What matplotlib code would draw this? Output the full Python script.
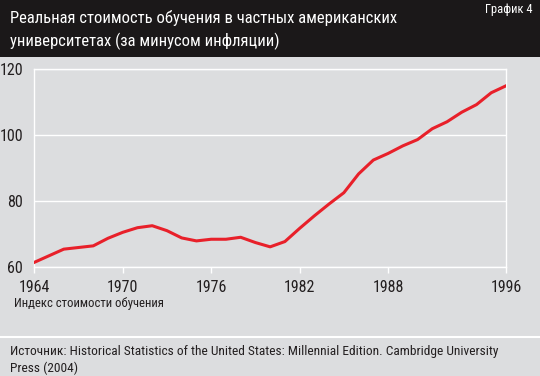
import matplotlib
matplotlib.use("Agg")
import matplotlib.pyplot as plt
from matplotlib.lines import Line2D
from matplotlib.patches import Rectangle

years = list(range(1964, 1997))
index = [61.5, 63.5, 65.5, 66.0, 66.5, 68.8, 70.6, 72.0, 72.6, 71.1, 68.9, 68.0,
         68.5, 68.5, 69.1, 67.5, 66.2, 67.8, 71.8, 75.6, 79.2, 82.6, 88.3, 92.5,
         94.5, 96.8, 98.7, 102.0, 104.1, 107.0, 109.3, 112.9, 115.0]
xticks = [1964, 1970, 1976, 1982, 1988, 1996]
yticks = [60, 80, 100, 120]
title = "Реальная стоимость обучения в частных американских\nуниверситетах (за минусом инфляции)"
tag = "График 4"
ylabel = "Индекс стоимости обучения"
source = "Источник: Historical Statistics of the United States: Millennial Edition. Cambridge University\nPress (2004)"

plt.rcParams['font.family'] = ['Roboto Condensed', 'DejaVu Sans']

W, H = 540, 376
fig = plt.figure(figsize=(W/100, H/100), dpi=100)
bg = '#dcdddf'
fig.patch.set_facecolor(bg)

# title band
fig.patches.append(Rectangle((0, 1 - 57/H), 1, 57/H, transform=fig.transFigure,
                             facecolor='#1b1819', edgecolor='none', zorder=0))
fig.text(10/W, 1 - 30/H, title, color='white', fontsize=12, va='center', ha='left',
         linespacing=1.45, transform=fig.transFigure)
fig.text(533/W, 1 - 9/H, tag, color='white', fontsize=9, va='center', ha='right')

ax = fig.add_axes([34.3/W, 108.7/H, (506-34.3)/W, 198/H])
ax.set_facecolor(bg)
ax.plot(years, index, color='#e8202a', lw=2.2, solid_joinstyle='round', zorder=3)
ax.set_xlim(1964, 1996)
ax.set_ylim(60, 120)
ax.set_xticks(xticks)
ax.set_yticks(yticks)
ax.grid(axis='y', color='white', lw=1)
for s in ax.spines.values():
    s.set_color('white')
    s.set_linewidth(1)
ax.tick_params(axis='x', colors='white', length=4, width=1, labelcolor='#231f20',
               labelsize=11.5, pad=5)
ax.tick_params(axis='y', length=0, labelcolor='#231f20', labelsize=11.5, pad=8)

fig.text(14/W, 1 - 303/H, ylabel, fontsize=9.2, color='#231f20', va='center', ha='left')
fig.lines.append(Line2D([0, 1], [1 - 337/H, 1 - 337/H], transform=fig.transFigure,
                        color='white', lw=1.5))
fig.text(10/W, 1 - 360/H, source, fontsize=9.6, color='#231f20', va='center', ha='left',
         linespacing=1.3)

fig.savefig('out.png', dpi=100, facecolor=bg)
